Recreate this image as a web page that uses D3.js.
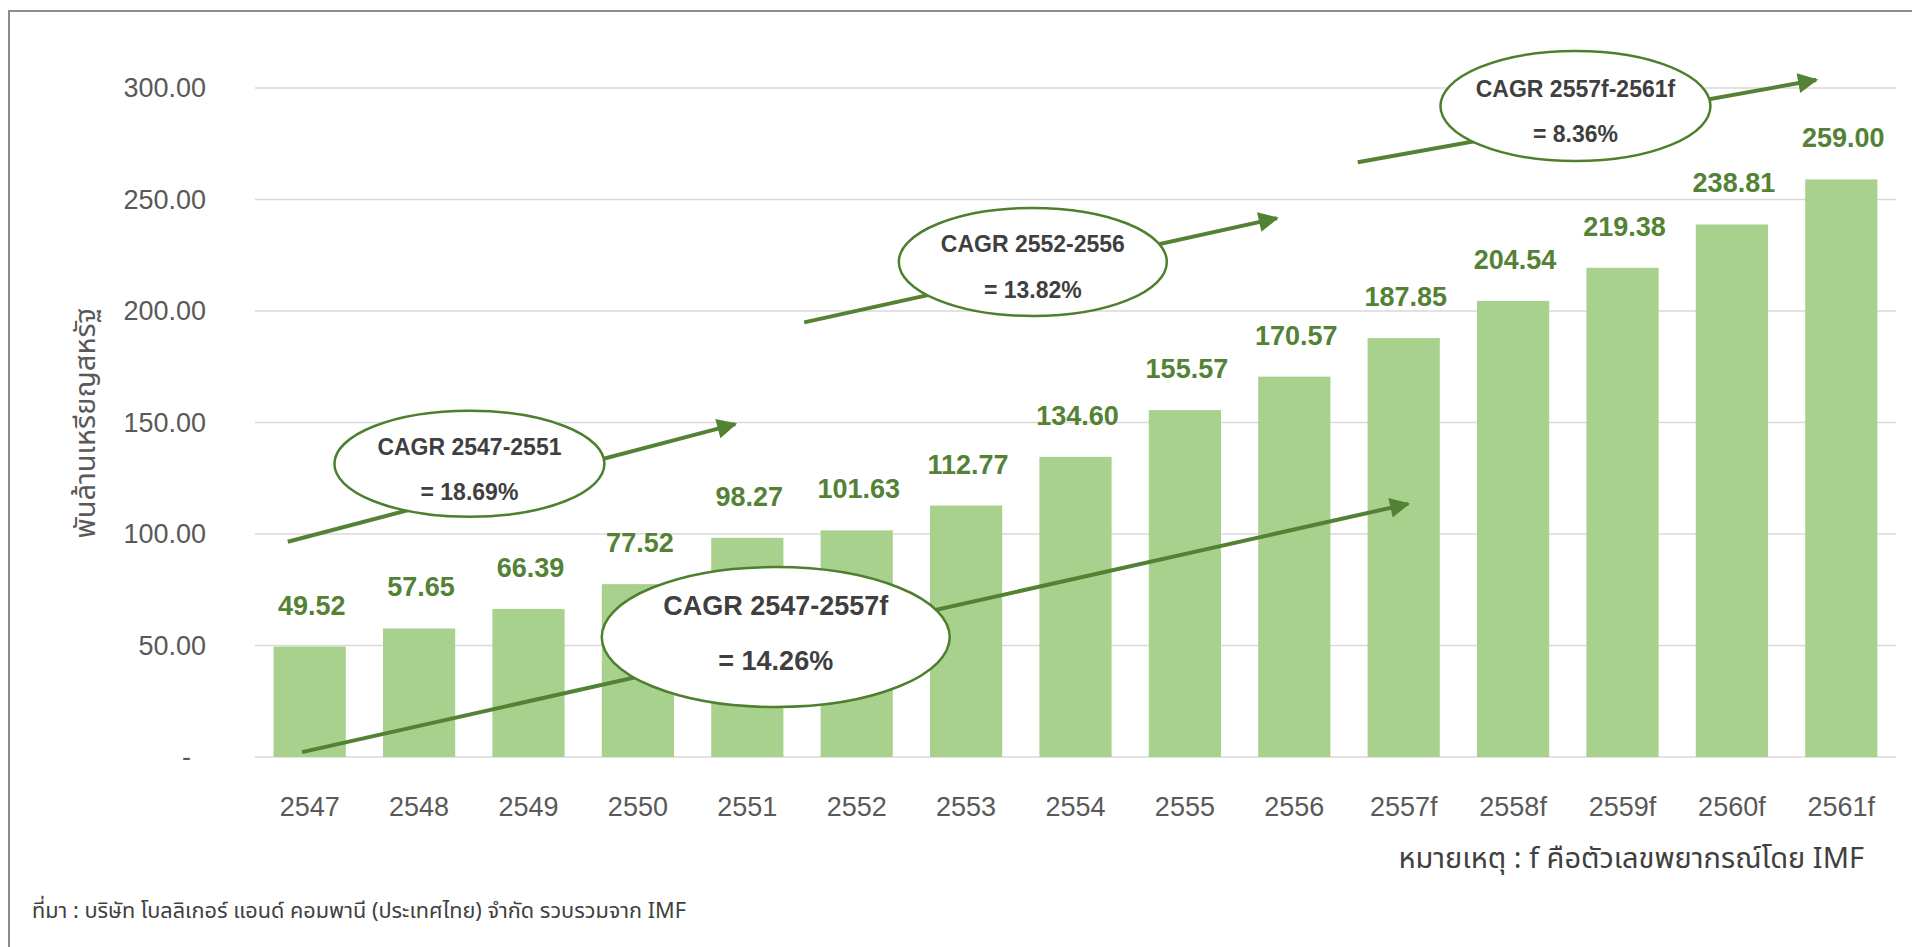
<html><head>
<meta charset="utf-8">
<title>CAGR chart</title>
<script src="https://d3js.org/d3.v7.min.js"></script>
<style>
  body { margin: 0; background: #fff; }
  svg text { font-family: "Liberation Sans", Arial, sans-serif; }
  svg text.thai { font-family: "Noto Sans Thai", "Tahoma", "Leelawadee UI", "Liberation Sans", sans-serif; }
</style>
</head>
<body>
<div id="chart"></div>

<script>

// data
var years = ["2547","2548","2549","2550","2551","2552","2553","2554","2555","2556","2557f","2558f","2559f","2560f","2561f"];
var values = [49.52, 57.65, 66.39, 77.52, 98.27, 101.63, 112.77, 134.60, 155.57, 170.57, 187.85, 204.54, 219.38, 238.81, 259.00];
var yTicks = [0, 50, 100, 150, 200, 250, 300];
var yTickLabels = ["-", "50.00", "100.00", "150.00", "200.00", "250.00", "300.00"];
var cagrTitles = ["CAGR 2547-2551", "CAGR 2552-2556", "CAGR 2557f-2561f", "CAGR 2547-2557f"];
var cagrValues = ["= 18.69%", "= 13.82%", "= 8.36%", "= 14.26%"];

var yTitle = "พันล้านเหรียญสหรัฐ";
var noteText = "หมายเหตุ : f คือตัวเลขพยากรณ์โดย IMF";
var sourceText = "ที่มา : บริษัท โบลลิเกอร์ แอนด์ คอมพานี (ประเทศไทย) จำกัด รวบรวมจาก IMF";

var W = 1912, H = 947;
var margin = {left: 255, right: 16, top: 88, bottom: 190};

var svg = d3.select("#chart").append("svg")
    .attr("width", W)
    .attr("height", H);

// frame (runs off the right and bottom of the picture)
svg.append("rect")
    .attr("x", 9).attr("y", 11)
    .attr("width", 2000).attr("height", 2000)
    .attr("fill", "none")
    .attr("stroke", "#8c8c8c")
    .attr("stroke-width", 2);

var x = d3.scaleBand()
    .domain(years)
    .range([margin.left, W - margin.right])
    .paddingInner(0.34)
    .paddingOuter(0.17);

var y = d3.scaleLinear()
    .domain([0, 300])
    .range([H - margin.bottom, margin.top]);

// position helper for annotations given in (category index, value)
var step = x.step();
function px(i) { return x(years[0]) + x.bandwidth() / 2 + i * step; }

// grid
svg.append("g").selectAll("line")
  .data(yTicks)
  .enter().append("line")
    .attr("x1", margin.left)
    .attr("x2", W - margin.right)
    .attr("y1", function(d) { return y(d); })
    .attr("y2", function(d) { return y(d); })
    .attr("stroke", "#d9d9d9")
    .attr("stroke-width", 1.5);

// y labels
svg.append("g").selectAll("text")
  .data(yTicks)
  .enter().append("text")
    .attr("x", function(d, i) { return i == 0 ? 191 : 206; })
    .attr("y", function(d) { return y(d); })
    .attr("dy", "0.35em")
    .attr("text-anchor", "end")
    .style("font-size", "27px")
    .attr("fill", "#595959")
    .text(function(d, i) { return yTickLabels[i]; });

// x labels
var xAxis = d3.axisBottom(x).tickSize(0).tickPadding(0);
var gx = svg.append("g")
    .attr("transform", "translate(0," + (y(0) + 40) + ")")
    .call(xAxis);
gx.select(".domain").remove();
gx.selectAll("text")
    .attr("dy", "0.71em")
    .style("font-size", "27px")
    .style("font-family", "'Liberation Sans', Arial, sans-serif")
    .attr("fill", "#595959");

// bars
svg.append("g").selectAll("rect")
  .data(values)
  .enter().append("rect")
    .attr("x", function(d, i) { return x(years[i]); })
    .attr("y", function(d) { return y(d); })
    .attr("width", x.bandwidth())
    .attr("height", function(d) { return y(0) - y(d); })
    .attr("fill", "#a9d18e");

// value labels
svg.append("g").selectAll("text")
  .data(values)
  .enter().append("text")
    .attr("x", function(d, i) { return x(years[i]) + x.bandwidth() / 2 + 2; })
    .attr("y", function(d) { return y(d) - 32; })
    .attr("text-anchor", "middle")
    .style("font-size", "27px")
    .style("font-weight", "bold")
    .attr("fill", "#548235")
    .text(function(d) { return d.toFixed(2); });

// y title
svg.append("text")
    .attr("class", "thai")
    .attr("transform", "translate(95," + 423 + ") rotate(-90)")
    .attr("text-anchor", "middle")
    .style("font-size", "29px")
    .attr("fill", "#595959")
    .text(yTitle);

// CAGR annotations: arrows in (category index, value), ellipse centres likewise
var arrows = [
  {x1: -0.2, v1: 96.5, x2: 3.89, v2: 149.3},
  {x1: 4.52, v1: 194.9, x2: 8.84, v2: 241.6},
  {x1: 9.58, v1: 266.7, x2: 13.77, v2: 303.6},
  {x1: -0.07, v1: 2.2, x2: 10.04, v2: 113.5}
];
var bubbles = [
  {cx: 1.46, cv: 131.5, rx: 135, ry: 53, fs: 23, d1: -9, d2: 36},
  {cx: 6.61, cv: 222.0, rx: 134, ry: 54, fs: 23, d1: -10, d2: 36},
  {cx: 11.57, cv: 291.9, rx: 135, ry: 55, fs: 23, d1: -9, d2: 36},
  {cx: 4.26, cv: 53.8, rx: 174, ry: 70, fs: 27, d1: -22, d2: 33}
];

svg.append("defs").append("marker")
    .attr("id", "head")
    .attr("viewBox", "0 0 10 10")
    .attr("refX", 9).attr("refY", 5)
    .attr("markerWidth", 6).attr("markerHeight", 5)
    .attr("markerUnits", "strokeWidth")
    .attr("orient", "auto")
  .append("path")
    .attr("d", "M0,0 L10,5 L0,10 Z")
    .attr("fill", "#548235");

svg.append("g").selectAll("line")
  .data(arrows)
  .enter().append("line")
    .attr("x1", function(d) { return px(d.x1); })
    .attr("y1", function(d) { return y(d.v1); })
    .attr("x2", function(d) { return px(d.x2); })
    .attr("y2", function(d) { return y(d.v2); })
    .attr("stroke", "#548235")
    .attr("stroke-width", 4)
    .attr("marker-end", "url(#head)");

var b = svg.append("g").selectAll("g")
  .data(bubbles)
  .enter().append("g")
    .attr("transform", function(d) { return "translate(" + px(d.cx) + "," + y(d.cv) + ")"; });

b.append("ellipse")
    .attr("rx", function(d) { return d.rx; })
    .attr("ry", function(d) { return d.ry; })
    .attr("fill", "#fff")
    .attr("stroke", "#4e7f2e")
    .attr("stroke-width", 2.5);

b.append("text")
    .attr("y", function(d) { return d.d1; })
    .attr("text-anchor", "middle")
    .style("font-size", function(d) { return d.fs + "px"; })
    .style("font-weight", "bold")
    .attr("fill", "#3f3f3f")
    .text(function(d, i) { return cagrTitles[i]; });

b.append("text")
    .attr("y", function(d) { return d.d2; })
    .attr("text-anchor", "middle")
    .style("font-size", function(d) { return d.fs + "px"; })
    .style("font-weight", "bold")
    .attr("fill", "#3f3f3f")
    .text(function(d, i) { return cagrValues[i]; });

// note + source
svg.append("text")
    .attr("class", "thai")
    .attr("x", 1864).attr("y", 868)
    .attr("text-anchor", "end")
    .style("font-size", "29px")
    .attr("fill", "#404040")
    .text(noteText);

svg.append("text")
    .attr("class", "thai")
    .attr("x", 32).attr("y", 918)
    .style("font-size", "22px")
    .attr("fill", "#404040")
    .attr("textLength", 654)
    .attr("lengthAdjust", "spacingAndGlyphs")
    .text(sourceText);

</script>
</body></html>
